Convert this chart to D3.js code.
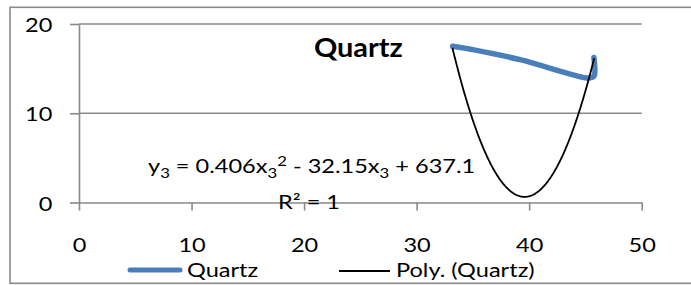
<!DOCTYPE html>
<html><head><meta charset="utf-8">
<script src="https://cdn.jsdelivr.net/npm/d3@7/dist/d3.min.js"></script>
<style>html,body{margin:0;padding:0;background:#fff;}svg{display:block;}</style>
</head><body>
<script>
// ---- data ----
const chartTitle = "Quartz";
const quartzX = [33.2, 35.1, 39.2, 43.9, 45.3, 45.75, 45.75];
const quartzY = [17.5, 17.1, 16.0, 14.3, 13.95, 14.15, 16.25];
const trendCoef = [0.406, -32.15, 637.1]; // a, b, c of displayed trendline
const trendRange = [33.18, 45.78];
const xTicks = [0, 10, 20, 30, 40, 50];
const yTicks = [0, 10, 20];
const legendNames = ["Quartz", "Poly. (Quartz)"];
const eqParts = [["y",""],["3","sub"],[" = 0.406x",""],["3","sub"],["2","sup"],[" - 32.15x",""],["3","sub"],[" + 637.1",""]];
const r2Text = "R\u00B2 = 1";

// ---- drawing ----
const W = 691, H = 285, SX = 1.24, FS = 19;
const FONT = "Lato, 'Open Sans', sans-serif";
const svg = d3.select("body").append("svg").attr("width", W).attr("height", H);
const x = d3.scaleLinear().domain([0, 50]).range([79, 641.7]);
const y = d3.scaleLinear().domain([0, 20]).range([202.5, 24]);
const gridCol = "#898989";

// outer border
svg.append("rect").attr("x", 10).attr("y", 7.3).attr("width", 700).attr("height", 276)
  .attr("fill", "none").attr("stroke", "#8a8a8a").attr("stroke-width", 1.6);

function txt(g, px, py, s, size, opts = {}) {
  const sx = opts.sx || SX;
  return g.append("text").attr("transform", `translate(${px},${py}) scale(${sx},1)`)
    .attr("text-anchor", opts.anchor || "start").attr("font-family", FONT)
    .attr("font-size", size).attr("font-weight", opts.bold ? "bold" : "normal")
    .attr("fill", "#000").text(s);
}

// gridlines
svg.append("g").selectAll("line").data(yTicks.filter(d => d !== 0)).join("line")
  .attr("x1", x(0)).attr("x2", x(50)).attr("y1", d => y(d)).attr("y2", d => y(d))
  .attr("stroke", gridCol).attr("stroke-width", 1.6);

// axes
const yAxis = svg.append("g").attr("transform", `translate(${x(0)},0)`)
  .call(d3.axisLeft(y).tickValues(yTicks).tickSize(9).tickSizeOuter(0).tickFormat(d3.format("d")));
const xAxis = svg.append("g").attr("transform", `translate(0,${y(0)})`)
  .call(d3.axisBottom(x).tickValues(xTicks).tickSize(8).tickSizeOuter(0).tickFormat(d3.format("d")));
[yAxis, xAxis].forEach(a => {
  a.select(".domain").attr("stroke", gridCol).attr("stroke-width", 1.6);
  a.selectAll(".tick line").attr("stroke", gridCol).attr("stroke-width", 1.6);
  a.selectAll("text").attr("font-family", FONT).attr("font-size", FS).attr("fill", "#000");
});
yAxis.selectAll("text").attr("x", -26.7 / SX).attr("dy", 0).attr("y", 7.6)
  .attr("transform", `scale(${SX},1)`);
xAxis.selectAll("text").attr("y", 50).attr("dy", 0).attr("transform", `scale(${SX},1)`);

// series line
const pts = quartzX.map((v, i) => [v, quartzY[i]]);
svg.append("path").datum(pts)
  .attr("d", d3.line().x(d => x(d[0])).y(d => y(d[1])).curve(d3.curveCatmullRom.alpha(0.5)))
  .attr("fill", "none").attr("stroke", "#4A7EBB").attr("stroke-width", 5.5)
  .attr("stroke-linecap", "round").attr("stroke-linejoin", "round");

// trendline
const tp = d3.range(0, 201).map(i => {
  const xv = trendRange[0] + (trendRange[1] - trendRange[0]) * i / 200;
  return [xv, trendCoef[0] * xv * xv + trendCoef[1] * xv + trendCoef[2]];
});
svg.append("path").datum(tp)
  .attr("d", d3.line().x(d => x(d[0])).y(d => y(d[1])))
  .attr("fill", "none").attr("stroke", "#000").attr("stroke-width", 1.8);

// title
txt(svg, 358.3, 56.5, chartTitle, 26.5, {anchor: "middle", bold: true, sx: 1.09});

// equation
const eq = svg.append("text").attr("transform", `translate(148,173) scale(${SX},1)`)
  .attr("font-family", FONT).attr("font-size", FS).attr("fill", "#000");
let cur = 0;
eqParts.forEach(([t, k]) => {
  const target = k === "sub" ? 5 : k === "sup" ? -7 : 0;
  eq.append("tspan").attr("dy", target - cur).attr("font-size", k ? 13.5 : FS).text(t);
  cur = target;
});
txt(svg, 278, 208.5, r2Text, FS);

// legend
svg.append("line").attr("x1", 130).attr("x2", 180).attr("y1", 270).attr("y2", 270)
  .attr("stroke", "#4A7EBB").attr("stroke-width", 5).attr("stroke-linecap", "round");
txt(svg, 187, 277.3, legendNames[0], FS);
svg.append("line").attr("x1", 339).attr("x2", 390).attr("y1", 271).attr("y2", 271)
  .attr("stroke", "#000").attr("stroke-width", 1.8);
txt(svg, 396, 277.3, legendNames[1], FS);
</script>
</body></html>
